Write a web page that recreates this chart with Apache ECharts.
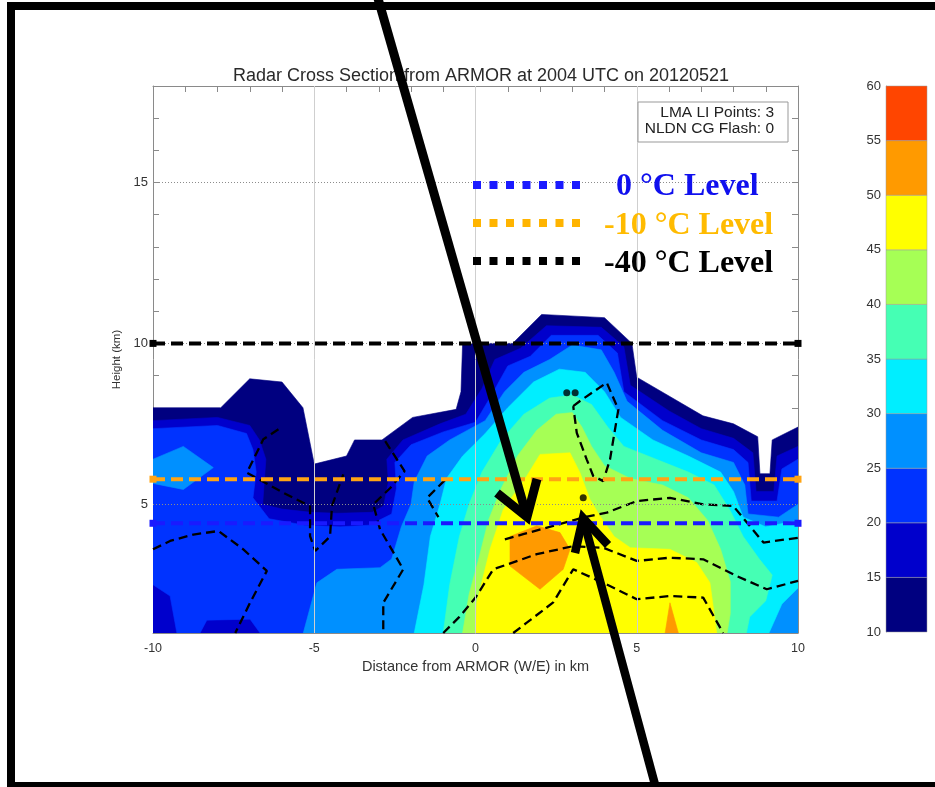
<!DOCTYPE html>
<html><head><meta charset="utf-8">
<script src="https://cdn.jsdelivr.net/npm/echarts@6/dist/echarts.min.js"></script>
<style>html,body{margin:0;padding:0;background:#fff}#c{width:935px;height:787px}</style>
</head><body><div id="c"></div>
<script>
// ---- reflectivity levels (dBZ) and colours ----
const levels = [10, 15, 20, 25, 30, 35, 40, 45, 50, 55, 60];
const levelColors = ['#000080', '#0000cc', '#0033ff', '#0090ff', '#00eeff', '#45ffb4', '#a6ff55', '#ffff00', '#ff9a00', '#ff4500'];

// ---- regions where reflectivity >= level, [km distance, km height] ----
const dbz10 = [[[-10,1],[-10,8.0],[-7.9,8.0],[-7.0,8.9],[-6.0,8.8],[-5.35,8.0],[-5.0,6.25],[-4.0,6.5],[-3.75,7.0],[-2.9,7.0],[-1.95,7.7],[-0.6,7.95],[-0.45,8.5],[-0.4,10.0],[1.15,10.0],[2.05,10.9],[4.0,10.8],[4.85,10.0],[5.0,8.95],[7.05,7.75],[8.0,7.5],[8.75,7.1],[8.82,5.95],[9.13,5.95],[9.2,7.0],[10,7.4],[10,1]]];
const dbz15 = [[[-10,1],[-10,7.6],[-8,7.7],[-7,7.45],[-6.7,7.0],[-6.5,6.4],[-6.6,5.0],[-6.0,4.85],[-5.1,4.75],[-4.3,4.72],[-3.2,4.75],[-2.85,4.95],[-2.7,5.7],[-2.75,6.4],[-2.25,7.0],[-1.1,7.5],[-0.3,7.8],[0.2,8.6],[0.6,9.5],[1.4,9.85],[2.2,10.55],[3.9,10.5],[4.6,9.9],[4.8,8.7],[6.0,7.9],[7.0,7.35],[8.0,7.05],[8.6,6.6],[8.7,5.4],[9.25,5.4],[9.35,6.5],[10,6.8],[10,1]]];
const dbz20 = [[[-9.26,1.0],[-9.47,2.15],[-10,2.5],[-10,7.35],[-8,7.45],[-7.1,7.2],[-6.9,6.7],[-6.8,6.0],[-6.9,5.2],[-6.4,4.55],[-5.3,4.35],[-4.2,4.3],[-3.3,4.35],[-2.6,4.7],[-2.45,5.5],[-2.5,6.3],[-2.0,6.85],[-1.0,7.25],[0.0,7.55],[0.5,8.4],[1.0,9.3],[1.7,9.6],[2.35,10.25],[3.8,10.25],[4.4,9.7],[4.6,8.5],[5.8,7.6],[7.0,7.0],[8.0,6.7],[8.45,6.3],[8.55,5.1],[9.35,5.1],[9.5,6.1],[10,6.4],[10,1],[-6.68,1.0],[-6.99,1.43],[-8.33,1.4],[-8.54,1.0]]];
const dbz25 = [[[-10,5.65],[-10,6.4],[-9.06,6.8],[-8.13,6.14],[-9.06,5.46]],
  [[-5.34,1.0],[-4.92,2.56],[-4.3,2.98],[-2.96,3.03],[-2.6,3.3],[-2.3,4.3],[-2.0,5.0],[-1.9,5.7],[-1.5,6.5],[-0.8,7.0],[0.3,7.6],[0.9,8.5],[1.5,9.1],[2.3,9.5],[3.0,9.95],[3.9,9.8],[4.3,9.1],[4.7,8.2],[5.8,7.3],[7.0,6.6],[8.0,6.3],[8.35,5.6],[8.45,4.7],[9.4,4.6],[10,5.0],[10,1]]];
const dbz30 = [[[-1.9,1.0],[-1.6,2.5],[-1.4,4.0],[-1.1,5.0],[-0.9,5.8],[-0.4,6.5],[0.3,7.2],[1.0,8.0],[1.8,8.8],[2.6,9.2],[3.4,9.1],[4.0,8.5],[4.5,7.7],[5.5,7.0],[6.6,6.5],[7.6,6.0],[8.0,5.4],[8.3,4.6],[9.0,4.3],[10,4.5],[10,2.4],[9.5,1.9],[9.1,1.0]]];
const dbz35 = [[[-1.0,1.0],[-0.8,2.5],[-0.5,4.0],[-0.2,5.0],[0.2,6.0],[0.8,7.0],[1.5,7.8],[2.3,8.3],[3.0,8.4],[3.6,8.1],[4.1,7.4],[4.6,6.8],[5.6,6.4],[6.6,6.0],[7.4,5.6],[7.9,4.8],[8.3,4.0],[8.8,3.3],[9.2,2.8],[9.0,2.0],[8.5,1.5],[8.4,1.0]]];
const dbz40 = [[[-0.4,1.0],[-0.2,2.2],[0.1,3.3],[0.4,4.5],[0.8,5.5],[1.3,6.5],[1.9,7.3],[2.5,7.8],[3.0,7.85],[3.3,7.4],[3.6,6.8],[4.0,6.2],[4.8,5.8],[5.8,5.6],[6.6,5.2],[7.2,4.5],[7.6,3.6],[7.9,2.6],[7.9,1.6],[7.8,1.0]]];
const dbz45 = [[[0.0,1.0],[0.04,1.95],[0.45,3.6],[0.86,4.84],[1.59,5.88],[2.0,6.55],[2.93,6.6],[3.24,5.98],[3.55,5.15],[3.86,4.64],[4.3,4.0],[4.8,3.65],[6.03,3.6],[6.86,3.19],[7.27,2.56],[7.48,1.0]]];
const dbz50 = [[[1.07,4.0],[1.9,4.33],[2.62,4.12],[2.93,3.6],[2.72,2.98],[2.0,2.36],[1.07,3.08]],[[5.88,1.0],[6.03,1.94],[6.29,1.0]]];
const dbz55 = [];

// ---- lightning density contours (dashed) ----
const contour1a = [[-10,3.6],[-9.47,3.86],[-8.75,4.06],[-7.97,4.17],[-7.2,3.6],[-6.47,2.93],[-6.99,1.94],[-7.45,1.0]];
const contour1b = [[-6.11,7.33],[-6.58,7.02],[-7.09,5.98],[-5.96,5.36],[-5.13,4.94],[-5.13,4.01],[-4.97,3.55],[-4.51,4.0],[-4.45,4.95],[-4.1,5.93]];
const contour1c = [[-2.8,6.96],[-2.2,6.03],[-2.65,5.5],[-3.17,5.0],[-2.96,4.22],[-2.24,2.98],[-2.86,1.94],[-2.86,1.0]];
const contour1d = [[-0.95,5.75],[-1.5,5.2],[-1.15,4.6]];
const contour1e = [[3.03,8.05],[3.24,8.21],[4.07,8.78],[4.43,7.95],[4.17,6.39],[3.96,5.72],[3.65,5.88],[3.45,6.39],[3.14,7.22],[3.03,8.05]];
const contour1f = [[0.91,3.91],[1.48,4.07],[2.41,4.33],[3.34,4.59],[4.07,4.74],[5.0,5.1],[6.03,5.2],[7.06,5.0],[7.99,4.95],[8.93,3.81],[10,3.96]];
const contour2 = [[-1.0,1.0],[-0.5,1.5],[0.0,2.1],[0.55,2.98],[1.9,3.45],[3.03,3.7],[3.96,3.65],[5.0,3.24],[6.03,3.34],[7.06,3.29],[8.1,2.77],[9.03,2.36],[10,2.62]];
const contour3 = [[1.17,1.0],[1.59,1.32],[2.41,1.95],[3.03,2.98],[3.96,2.56],[5.0,2.05],[6.03,2.15],[7.06,2.1],[7.68,1.0]];
const contourLabels = [['1',-9.6,3.83,15],['1',-4.42,5.4,80],['1',-2.9,1.45,90],['2',-0.72,1.3,45],['1',1.5,4.06,15],['1',3.4,6.45,-72],['3',1.6,1.32,35]];

// ---- lightning points and temperature levels ----
const lmaPoints = [[2.83,8.47],[3.09,8.47],[3.34,5.2]];
const level0C = 4.41, level10C = 5.78, level40C = 10.0;
const gridX = [-5, 0, 5];
const gridY = [5, 10, 15];

const chart = echarts.init(document.getElementById('c'), null, {renderer: 'canvas'});
const layers = [dbz10, dbz15, dbz20, dbz25, dbz30, dbz35, dbz40, dbz45, dbz50, dbz55];
const polys = [];
layers.forEach((lay, li) => lay.forEach(pts => polys.push({pts, color: levelColors[li]})));
const bands = [];
for (let i = 0; i < levelColors.length; i++) bands.push([levels[i], levels[i + 1], levelColors[i]]);

const FONT = 'Liberation Sans';
const axisGray = '#8a8a8a';
function dashLine(pts, z) {
  return {type: 'line', data: pts, xAxisIndex: 0, yAxisIndex: 0, symbol: 'none', silent: true, z: z,
    lineStyle: {color: '#000', width: 2.3, type: [9, 5]}, animation: false};
}
function levelLine(y, color) {
  return {type: 'line', data: [[-10, y], [10, y]], symbol: 'rect', symbolSize: 7, silent: true, z: 6,
    itemStyle: {color: color}, lineStyle: {color: color, width: 4, type: [12, 6]}, animation: false};
}
function boxAxis(pos, isX) {
  const a = {gridIndex: 0, type: 'value', interval: 1, position: pos,
    axisLine: {show: true, onZero: false, lineStyle: {color: axisGray}},
    axisTick: {show: true, inside: true, length: 6, lineStyle: {color: axisGray}},
    splitLine: {show: false}};
  if (isX) { a.min = -10; a.max = 10; } else { a.min = 1; a.max = 18; }
  return a;
}
const xBottom = Object.assign(boxAxis('bottom', true), {
  axisLabel: {formatter: v => (v % 5 === 0 ? String(v) : ''), color: '#333', fontFamily: FONT, fontSize: 12.5, margin: 9},
  name: 'Distance from ARMOR (W/E) in km', nameLocation: 'middle', nameGap: 22,
  nameTextStyle: {fontFamily: FONT, fontSize: 14.5, color: '#333'}});
const xTop = Object.assign(boxAxis('top', true), {axisLabel: {show: false}});
const yLeft = Object.assign(boxAxis('left', false), {
  axisLabel: {formatter: v => (v % 5 === 0 ? String(v) : ''), color: '#333', fontFamily: FONT, fontSize: 13, margin: 5},
  name: 'Height (km)', nameLocation: 'middle', nameGap: 30, nameRotate: 90,
  nameTextStyle: {fontFamily: FONT, fontSize: 11.5, color: '#333'}});
const yRight = Object.assign(boxAxis('right', false), {axisLabel: {show: false}});

const option = {
  animation: false,
  backgroundColor: '#fff',
  title: {text: 'Radar Cross Section from ARMOR at 2004 UTC on 20120521', left: 476, top: 62, textAlign: 'center',
    textStyle: {fontFamily: FONT, fontSize: 18, fontWeight: 'normal', color: '#2a2a2a'}},
  grid: [
    {left: 153, top: 86, width: 645, height: 547, show: false},
    {left: 886, top: 86, width: 41, height: 546, show: false}
  ],
  xAxis: [xBottom, xTop, {gridIndex: 1, type: 'value', min: 0, max: 1, show: false}],
  yAxis: [yLeft, yRight,
    {gridIndex: 1, type: 'value', min: 10, max: 60, interval: 5, position: 'left',
      axisLine: {show: true, onZero: false, lineStyle: {color: '#aaa'}}, axisTick: {show: false},
      axisLabel: {color: '#333', fontFamily: FONT, fontSize: 13, margin: 5}, splitLine: {show: false}}],
  series: [
    {type: 'line', xAxisIndex: 0, yAxisIndex: 0, data: [[-10, 18]], symbol: 'none', z: 0, silent: true,
      lineStyle: {opacity: 0},
      markLine: {silent: true, symbol: 'none', label: {show: false}, animation: false,
        data: gridX.map(v => ({xAxis: v, lineStyle: {color: '#cfcfcf', width: 1, type: 'solid'}}))}},
    {type: 'custom', xAxisIndex: 0, yAxisIndex: 0, z: 1, silent: true, clip: true,
      data: polys.map(p => [p.pts[0][0], p.pts[0][1]]),
      renderItem: function (params, api) {
        const p = polys[params.dataIndex];
        return {type: 'polygon', shape: {points: p.pts.map(q => api.coord(q))},
          style: {fill: p.color, stroke: p.color, lineWidth: 0.6}};
      }},
    {type: 'line', xAxisIndex: 0, yAxisIndex: 0, data: [[-10, 18]], symbol: 'none', z: 2, silent: true,
      lineStyle: {opacity: 0},
      markLine: {silent: true, symbol: 'none', label: {show: false}, animation: false,
        data: gridY.map(v => ({yAxis: v, lineStyle: {color: '#8c8c8c', width: 1, type: [1, 2]}}))}},
    dashLine(contour1a, 3), dashLine(contour1b, 3), dashLine(contour1c, 3), dashLine(contour1d, 3),
    dashLine(contour1e, 3), dashLine(contour1f, 3), dashLine(contour2, 3), dashLine(contour3, 3),
    {type: 'scatter', xAxisIndex: 0, yAxisIndex: 0, z: 4, silent: true, symbolSize: 1,
      itemStyle: {opacity: 0},
      data: contourLabels.map(l => ({value: [l[1], l[2]], label: {show: true, formatter: l[0], rotate: l[3], position: 'inside',
        color: '#000', fontFamily: FONT, fontSize: 11}}))},
    levelLine(level40C, '#000000'), levelLine(level10C, '#ffa414'), levelLine(level0C, '#1a1aff'),
    {type: 'scatter', xAxisIndex: 0, yAxisIndex: 0, z: 7, silent: true, symbolSize: 7,
      itemStyle: {color: '#000'}, data: lmaPoints},
    {type: 'custom', xAxisIndex: 2, yAxisIndex: 2, z: 1, silent: true,
      data: bands.map(b => [0, b[0]]),
      renderItem: function (params, api) {
        const b = bands[params.dataIndex];
        const p0 = api.coord([0, b[1]]), p1 = api.coord([1, b[0]]);
        return {type: 'rect', shape: {x: p0[0], y: p0[1], width: p1[0] - p0[0], height: p1[1] - p0[1]},
          style: {fill: b[2], stroke: '#9a9a9a', lineWidth: 0.5}};
      }}
  ],
  graphic: [
    // info box
    {type: 'rect', z: 50, shape: {x: 638, y: 102, width: 150, height: 40}, style: {fill: '#fff', stroke: '#999', lineWidth: 1}},
    {type: 'text', z: 51, x: 774, y: 113, style: {text: 'LMA LI Points: 3', fill: '#222', font: '15.5px "Liberation Sans"', textAlign: 'right', textVerticalAlign: 'middle'}},
    {type: 'text', z: 51, x: 774, y: 129, style: {text: 'NLDN CG Flash: 0', fill: '#222', font: '15.5px "Liberation Sans"', textAlign: 'right', textVerticalAlign: 'middle'}},
    // temperature-level legend
    {type: 'line', z: 50, shape: {x1: 473, y1: 185, x2: 582, y2: 185}, style: {stroke: '#1a1aff', lineWidth: 8, lineDash: [8, 8.5]}},
    {type: 'line', z: 50, shape: {x1: 473, y1: 223, x2: 582, y2: 223}, style: {stroke: '#ffb400', lineWidth: 8, lineDash: [8, 8.5]}},
    {type: 'line', z: 50, shape: {x1: 473, y1: 261, x2: 582, y2: 261}, style: {stroke: '#000', lineWidth: 8, lineDash: [8, 8.5]}},
    {type: 'text', z: 51, x: 616, y: 187, style: {text: '0 °C Level', fill: '#1010ee', font: 'bold 32px "Liberation Serif"', textVerticalAlign: 'middle'}},
    {type: 'text', z: 51, x: 604, y: 226, style: {text: '-10 °C Level', fill: '#ffbb00', font: 'bold 32px "Liberation Serif"', textVerticalAlign: 'middle'}},
    {type: 'text', z: 51, x: 604, y: 264, style: {text: '-40 °C Level', fill: '#000', font: 'bold 32px "Liberation Serif"', textVerticalAlign: 'middle'}},
    // annotation arrows
    {type: 'polyline', z: 100, shape: {points: [[377, -5], [527, 517]]}, style: {stroke: '#000', lineWidth: 9, fill: null}},
    {type: 'polyline', z: 100, shape: {points: [[497, 493], [527, 517], [537, 479]]}, style: {stroke: '#000', lineWidth: 9, fill: null, lineJoin: 'miter'}},
    {type: 'polyline', z: 100, shape: {points: [[583, 518], [657, 792]]}, style: {stroke: '#000', lineWidth: 8.5, fill: null}},
    {type: 'polyline', z: 100, shape: {points: [[575, 553], [583, 518], [608, 545]]}, style: {stroke: '#000', lineWidth: 8.5, fill: null, lineJoin: 'miter'}},
    // outer frame
    {type: 'rect', z: 100, shape: {x: 11, y: 6, width: 960, height: 780}, style: {fill: null, stroke: '#000', lineWidth: 8}}
  ]
};
chart.setOption(option);
</script>
</body></html>
